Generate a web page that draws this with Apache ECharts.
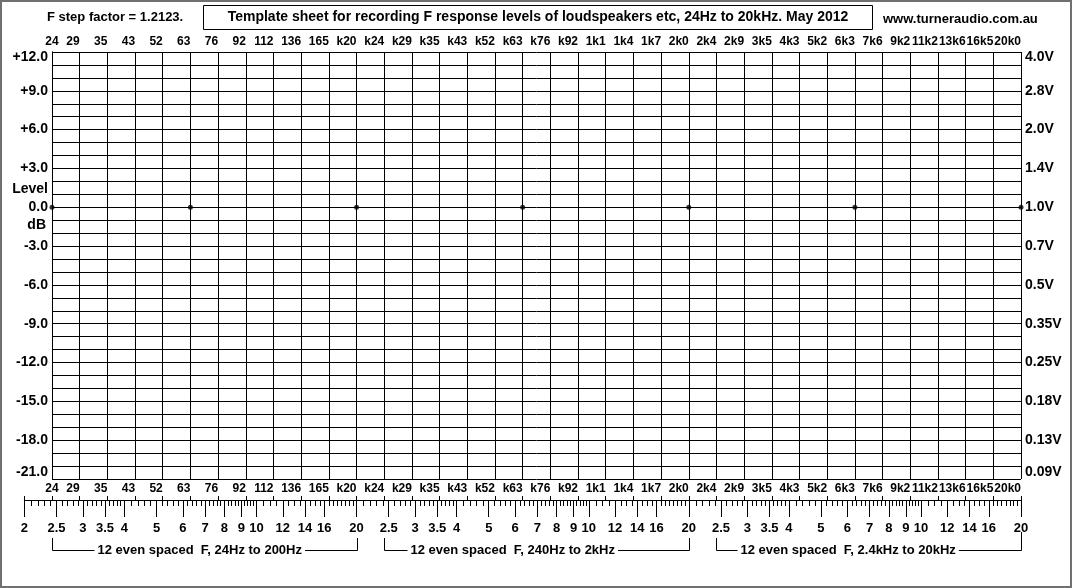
<!DOCTYPE html>
<html><head><meta charset="utf-8">
<script src="https://cdn.jsdelivr.net/npm/echarts@6.0.0/dist/echarts.min.js"></script>
<style>html,body{margin:0;padding:0;background:#fff}#c{width:1072px;height:588px}</style>
</head><body><div id="c"></div><script>
// ---- data ----
const freqLabels = ['24','29','35','43','52','63','76','92','112','136','165','k20','k24','k29','k35','k43','k52','k63','k76','k92','1k1','1k4','1k7','2k0','2k4','2k9','3k5','4k3','5k2','6k3','7k6','9k2','11k2','13k6','16k5','20k0'];
const dbTicks = [12,9,6,3,0,-3,-6,-9,-12,-15,-18,-21];
const dbLabels = ['+12.0','+9.0','+6.0','+3.0','0.0','-3.0','-6.0','-9.0','-12.0','-15.0','-18.0','-21.0'];
const voltLabels = ['4.0V','2.8V','2.0V','1.4V','1.0V','0.7V','0.5V','0.35V','0.25V','0.18V','0.13V','0.09V'];
const refPointIdx = [0,5,11,17,23,29,35];
const refPointDb = [0,0,0,0,0,0,0];
const rulerLabelVals = [2,2.5,3,3.5,4,5,6,7,8,9,10,12,14,16,20];
const rulerMinorVals = [2.1,2.2,2.3,2.4,2.6,2.7,2.8,2.9,3.1,3.2,3.3,3.4,3.6,3.7,3.8,3.9,4.2,4.4,4.6,4.8,5.2,5.4,5.6,5.8,6.2,6.4,6.6,6.8,7.2,7.4,7.6,7.8,8.2,8.4,8.6,8.8,9.2,9.4,9.6,9.8,10.5,11,11.5,12.5,13,13.5,14.5,15,15.5,16.5,17,17.5,18,18.5,19,19.5];
const rulerDecades = 3;
const bracketTexts = ['12 even spaced  F, 24Hz to 200Hz','12 even spaced  F, 240Hz to 2kHz','12 even spaced  F, 2.4kHz to 20kHz'];
const bracketSpans = [[0,11],[12,23],[24,35]];
const titleText = 'Template sheet for recording F response levels of loudspeakers etc, 24Hz to 20kHz. May 2012';
const stepText = 'F step factor = 1.2123.';
const siteText = 'www.turneraudio.com.au';

// ---- helpers ----
const FF = '"Liberation Sans", Arial, Helvetica, sans-serif';
function rulerIdx(v, d){ return -1 + 12*(d + Math.log10(v/2)); }
const rulerMajorPos = [], rulerMajorText = {}, rulerMinorPos = [];
for (let d=0; d<rulerDecades; d++){
  rulerLabelVals.forEach(v=>{
    if (d>0 && v===2) return;
    const p = rulerIdx(v,d);
    rulerMajorPos.push(p);
    rulerMajorText[p.toFixed(4)] = String(v);
  });
  rulerMinorVals.forEach(v=>rulerMinorPos.push(rulerIdx(v,d)));
}
const lbl = (size)=>({fontFamily:FF,fontWeight:'bold',fontSize:size,color:'#000'});
const chart = echarts.init(document.getElementById('c'), null, {renderer:'canvas'});
const step = 969/35;
const option = {
  backgroundColor:'#fff',
  animation:false,
  grid:[
    {left:52,right:51,top:52,bottom:109},
    {left:52-step,right:51,top:499,height:1}
  ],
  xAxis:[
    {gridIndex:0,type:'value',min:0,max:35,interval:1,position:'top',
     axisLine:{show:false},axisTick:{show:false},
     splitLine:{show:true,lineStyle:{color:'#000',width:1}},
     axisLabel:Object.assign(lbl(12),{margin:4,align:'right',alignMinLabel:'center',
       formatter:v=>freqLabels[Math.round(v)]})},
    {gridIndex:0,type:'value',min:0,max:35,interval:1,position:'bottom',
     axisLine:{show:false},axisTick:{show:false},splitLine:{show:false},
     axisLabel:Object.assign(lbl(12),{margin:4,align:'right',alignMinLabel:'center',
       formatter:v=>freqLabels[Math.round(v)]})},
    {gridIndex:1,type:'value',min:-1,max:35,position:'bottom',
     axisLine:{show:true,lineStyle:{color:'#000',width:1}},
     axisTick:{show:true,customValues:rulerMajorPos,length:17,lineStyle:{color:'#000'}},
     splitLine:{show:false},
     axisLabel:Object.assign(lbl(13),{margin:22,customValues:rulerMajorPos,
       formatter:v=>rulerMajorText[v.toFixed(4)]||''})},
    {gridIndex:1,type:'value',min:-1,max:35,position:'bottom',
     axisLine:{show:false},
     axisTick:{show:true,customValues:rulerMinorPos,length:6,lineStyle:{color:'#000'}},
     splitLine:{show:false},axisLabel:{show:false}},
    {gridIndex:1,type:'value',min:-1,max:35,interval:1,position:'bottom',
     axisLine:{show:false},
     axisTick:{show:true,inside:true,length:4,lineStyle:{color:'#000'}},
     splitLine:{show:false},axisLabel:{show:false}}
  ],
  yAxis:[
    {gridIndex:0,type:'value',min:-21,max:12,interval:1,position:'left',
     axisLine:{show:true,lineStyle:{color:'#000'}},axisTick:{show:false},
     splitLine:{show:true,lineStyle:{color:'#000',width:1}},
     axisLabel:{margin:4,
       formatter:v=>{const i=dbTicks.indexOf(v); if(i<0) return ''; const k=i===0?'t':(i===dbTicks.length-1?'b':'n'); return '{'+k+'|'+dbLabels[i]+'}';},
       rich:{t:Object.assign(lbl(14),{padding:[10,0,0,0]}),b:Object.assign(lbl(14),{padding:[0,0,14,0]}),n:lbl(14)}}},
    {gridIndex:0,type:'value',min:-21,max:12,interval:1,position:'right',
     axisLine:{show:true,lineStyle:{color:'#000'}},axisTick:{show:false},splitLine:{show:false},
     axisLabel:{margin:4,
       formatter:v=>{const i=dbTicks.indexOf(v); if(i<0) return ''; const k=i===0?'t':(i===dbTicks.length-1?'b':'n'); return '{'+k+'|'+voltLabels[i]+'}';},
       rich:{t:Object.assign(lbl(14),{padding:[10,0,0,0]}),b:Object.assign(lbl(14),{padding:[0,0,14,0]}),n:lbl(14)}}},
    {gridIndex:1,type:'value',min:0,max:1,show:false}
  ],
  series:[
    {type:'scatter',xAxisIndex:0,yAxisIndex:0,symbol:'circle',symbolSize:5,
     itemStyle:{color:'#000'},data:refPointIdx.map((x,i)=>[x,refPointDb[i]]),z:5}
  ]
};
chart.setOption(option);

// ---- decorations (positions derived from the axes) ----
const px = (i,db)=>chart.convertToPixel({xAxisIndex:0,yAxisIndex:0},[i,db]);
const gfx = [];
gfx.push({type:'rect',shape:{x:1,y:1,width:1070,height:586},style:{fill:null,stroke:'#707070',lineWidth:2},silent:true});
gfx.push({type:'rect',shape:{x:203.5,y:5.5,width:669,height:24},style:{fill:'#fff',stroke:'#000',lineWidth:1}});
gfx.push({type:'text',x:538,y:17.5,style:Object.assign(lbl(14),{text:titleText,align:'center',verticalAlign:'middle',fill:'#000'})});
gfx.push({type:'text',x:47,y:17.5,style:Object.assign(lbl(13),{text:stepText,align:'left',verticalAlign:'middle',fill:'#000'})});
gfx.push({type:'text',x:883,y:19.5,style:Object.assign(lbl(13),{text:siteText,align:'left',verticalAlign:'middle',fill:'#000'})});
const y15 = px(0,1.4)[1], ym15 = px(0,-1.4)[1];
gfx.push({type:'text',x:48,y:y15,style:Object.assign(lbl(14),{text:'Level',align:'right',verticalAlign:'middle',fill:'#000'})});
gfx.push({type:'text',x:46,y:ym15,style:Object.assign(lbl(14),{text:'dB',align:'right',verticalAlign:'middle',fill:'#000'})});
const textOffsets = [45,26,24];
bracketSpans.forEach((s,k)=>{
  const x0 = Math.round(px(s[0],0)[0])+0.5, x1 = Math.round(px(s[1],0)[0])+0.5;
  gfx.push({type:'polyline',shape:{points:[[x0,538],[x0,550.5],[x1,550.5],[x1,k===2?532:538]]},style:{stroke:'#000',lineWidth:1,fill:null}});
  gfx.push({type:'text',x:x0+textOffsets[k]-3,y:550,style:Object.assign(lbl(13),{text:bracketTexts[k],align:'left',verticalAlign:'middle',fill:'#000',backgroundColor:'#fff',padding:[0,3]})});
});
chart.setOption({graphic:gfx});
</script></body></html>
